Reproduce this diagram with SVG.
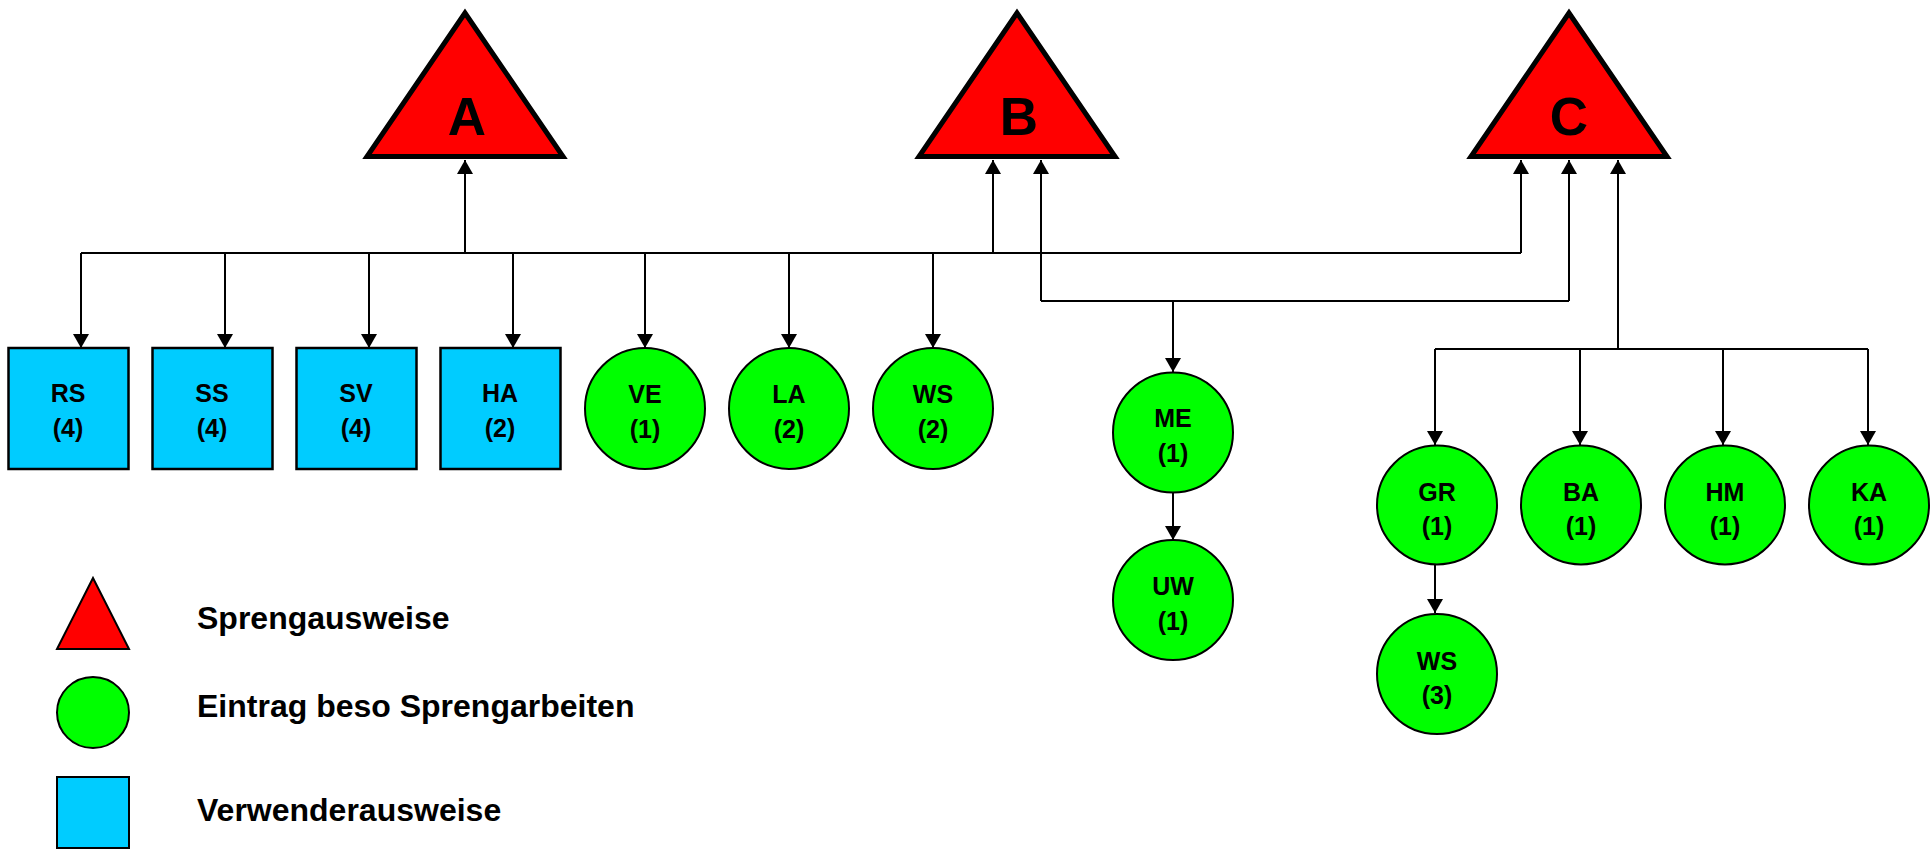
<svg xmlns="http://www.w3.org/2000/svg" width="1932" height="850" viewBox="0 0 1932 850">
<style>
text{font-family:"Liberation Sans",Arial,sans-serif;font-weight:bold;fill:#000;}
.lbl{font-size:25px;text-anchor:middle;}
.big{font-size:53px;text-anchor:middle;}
.leg{font-size:32px;}
.tri{fill:#FF0000;stroke:#000;stroke-width:5;stroke-linejoin:miter;}
.box{fill:#00CCFF;stroke:#000;stroke-width:2.5;}
.cir{fill:#00FF00;stroke:#000;stroke-width:2;}
.ln{fill:none;stroke:#000;stroke-width:2;}
.ar{fill:none;stroke:#000;stroke-width:2;marker-end:url(#ah);}
</style>
<defs>
<marker id="ah" markerUnits="userSpaceOnUse" markerWidth="14" markerHeight="16" viewBox="0 0 14 16" refX="14" refY="8" orient="auto">
<path d="M0,0 L14,8 L0,16 Z" fill="#000"/>
</marker>
</defs>
<rect width="1932" height="850" fill="#fff"/>
<g id="connectors">
<path class="ln" d="M81,253 H1521"/>
<path class="ar" d="M465,253 V160"/>
<path class="ar" d="M993,253 V160"/>
<path class="ar" d="M1521,253 V160"/>
<path class="ar" d="M81,253 V348"/>
<path class="ar" d="M225,253 V348"/>
<path class="ar" d="M369,253 V348"/>
<path class="ar" d="M513,253 V348"/>
<path class="ar" d="M645,253 V348"/>
<path class="ar" d="M789,253 V348"/>
<path class="ar" d="M933,253 V348"/>
<path class="ln" d="M1041,301 H1569"/>
<path class="ar" d="M1041,301 V160"/>
<path class="ar" d="M1569,301 V160"/>
<path class="ar" d="M1173,301 V372"/>
<path class="ln" d="M1435,349 H1868"/>
<path class="ar" d="M1618,349 V160"/>
<path class="ar" d="M1435,349 V445"/>
<path class="ar" d="M1580,349 V445"/>
<path class="ar" d="M1723,349 V445"/>
<path class="ar" d="M1868,349 V445"/>
<path class="ar" d="M1173,492 V540"/>
<path class="ar" d="M1435,565 V613"/>
</g>
<g id="A"><polygon class="tri" points="465,13 367,156.5 563,156.5"/><text class="big" x="467" y="135">A</text></g>
<g id="B"><polygon class="tri" points="1017,13 919,156.5 1115,156.5"/><text class="big" x="1019" y="135">B</text></g>
<g id="C"><polygon class="tri" points="1569,13 1471,156.5 1667,156.5"/><text class="big" x="1569" y="135">C</text></g>
<g id="RS"><rect class="box" x="8.5" y="348" width="120" height="121"/><text class="lbl" x="68" y="402">RS<tspan x="68" dy="35">(4)</tspan></text></g>
<g id="SS"><rect class="box" x="152.5" y="348" width="120" height="121"/><text class="lbl" x="212" y="402">SS<tspan x="212" dy="35">(4)</tspan></text></g>
<g id="SV"><rect class="box" x="296.5" y="348" width="120" height="121"/><text class="lbl" x="356" y="402">SV<tspan x="356" dy="35">(4)</tspan></text></g>
<g id="HA"><rect class="box" x="440.5" y="348" width="120" height="121"/><text class="lbl" x="500" y="402">HA<tspan x="500" dy="35">(2)</tspan></text></g>
<g id="VE"><ellipse class="cir" cx="645" cy="408.5" rx="60" ry="60.5"/><text class="lbl" x="645" y="403">VE<tspan x="645" dy="35">(1)</tspan></text></g>
<g id="LA"><ellipse class="cir" cx="789" cy="408.5" rx="60" ry="60.5"/><text class="lbl" x="789" y="403">LA<tspan x="789" dy="35">(2)</tspan></text></g>
<g id="WS1"><ellipse class="cir" cx="933" cy="408.5" rx="60" ry="60.5"/><text class="lbl" x="933" y="403">WS<tspan x="933" dy="35">(2)</tspan></text></g>
<g id="ME"><ellipse class="cir" cx="1173" cy="432.5" rx="60" ry="60"/><text class="lbl" x="1173" y="427">ME<tspan x="1173" dy="35">(1)</tspan></text></g>
<g id="UW"><ellipse class="cir" cx="1173" cy="600" rx="60" ry="60"/><text class="lbl" x="1173" y="595">UW<tspan x="1173" dy="35">(1)</tspan></text></g>
<g id="GR"><ellipse class="cir" cx="1437" cy="505" rx="60" ry="59.5"/><text class="lbl" x="1437" y="501">GR<tspan x="1437" dy="34">(1)</tspan></text></g>
<g id="BA"><ellipse class="cir" cx="1581" cy="505" rx="60" ry="59.5"/><text class="lbl" x="1581" y="501">BA<tspan x="1581" dy="34">(1)</tspan></text></g>
<g id="HM"><ellipse class="cir" cx="1725" cy="505" rx="60" ry="59.5"/><text class="lbl" x="1725" y="501">HM<tspan x="1725" dy="34">(1)</tspan></text></g>
<g id="KA"><ellipse class="cir" cx="1869" cy="505" rx="60" ry="59.5"/><text class="lbl" x="1869" y="501">KA<tspan x="1869" dy="34">(1)</tspan></text></g>
<g id="WS3"><ellipse class="cir" cx="1437" cy="674" rx="60" ry="60"/><text class="lbl" x="1437" y="670">WS<tspan x="1437" dy="34">(3)</tspan></text></g>
<g id="legend">
<polygon points="93,578 57,649 129,649" fill="#FF0000" stroke="#000" stroke-width="2"/>
<ellipse cx="93" cy="712.5" rx="36" ry="35.5" fill="#00FF00" stroke="#000" stroke-width="2"/>
<rect x="57" y="777" width="72" height="71" fill="#00CCFF" stroke="#000" stroke-width="2"/>
<text class="leg" x="197" y="629">Sprengausweise</text>
<text class="leg" x="197" y="717">Eintrag beso Sprengarbeiten</text>
<text class="leg" x="197" y="821">Verwenderausweise</text>
</g>
</svg>
